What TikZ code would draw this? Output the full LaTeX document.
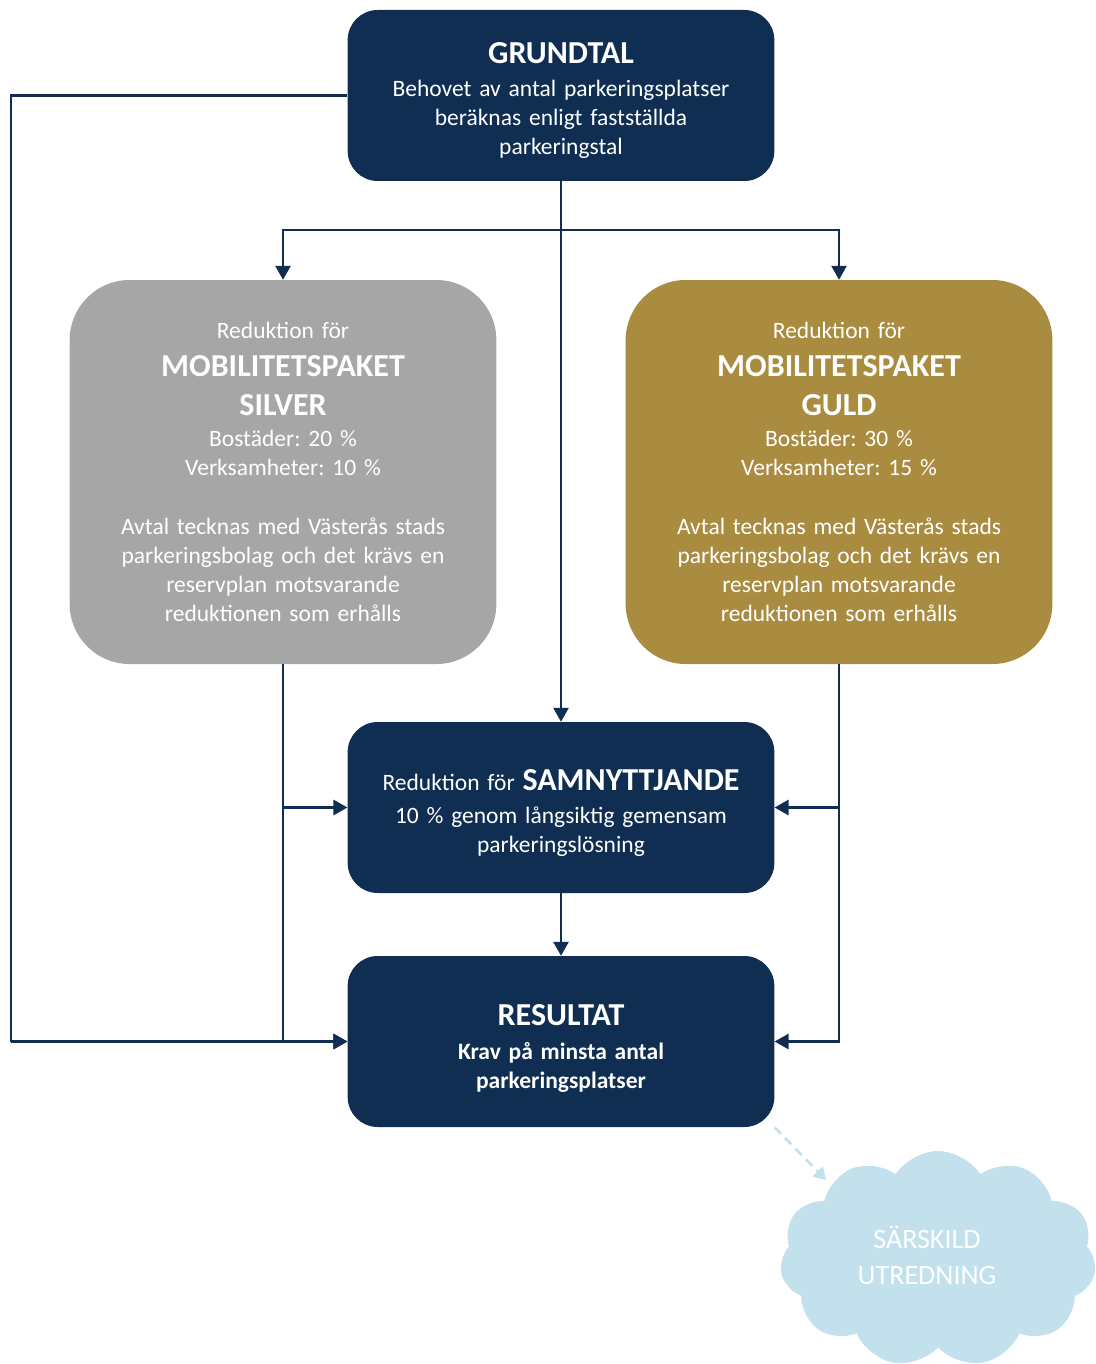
\documentclass[tikz,border=0pt]{standalone}
\usepackage{fontspec}
\setmainfont{Carlito}
\usetikzlibrary{arrows.meta,shapes.symbols,positioning}
\definecolor{navy}{HTML}{0F2E52}
\definecolor{silvergray}{HTML}{A6A6A6}
\definecolor{goldbrown}{HTML}{AA8C40}
\definecolor{skyblue}{HTML}{C3E1EC}
\frenchspacing
\tikzset{
  navybox/.style={draw=none, fill=navy, rounded corners=30pt, minimum width=426pt, minimum height=171pt, text=white, text width=420pt, align=center, font=\fontsize{23.5}{29}\selectfont},
  bigbox/.style={draw=none, rounded corners=60pt, minimum width=426pt, minimum height=384pt, text=white, text width=420pt, align=center, font=\fontsize{23.5}{29}\selectfont},
  link/.style={navy, line width=2.6pt, -{Triangle[length=14pt,width=15pt]}},
  rail/.style={navy, line width=2.6pt}
}
\newcommand{\titlefont}{\fontsize{32}{29}\selectfont\bfseries}
\newcommand{\topstrut}[1]{\rule{0pt}{#1}}
\begin{document}
\begin{tikzpicture}[x=1pt, y=-1pt]
    \useasboundingbox (0,0) rectangle (1095,1364);

    \node[navybox] (grund) at (561,95.5) {\topstrut{32pt}{\titlefont GRUNDTAL}\\[4pt]Behovet av antal parkeringsplatser\\beräknas enligt fastställda\\parkeringstal};
    \node[bigbox, fill=silvergray] (silver) at (283,472) {Reduktion för\\[9pt]{\titlefont MOBILITETSPAKET}\\[10pt]{\titlefont SILVER}\\[2pt]Bostäder: 20 \%\\Verksamheter: 10 \%\\[30pt]Avtal tecknas med Västerås stads\\parkeringsbolag och det krävs en\\reservplan motsvarande\\reduktionen som erhålls};
    \node[bigbox, fill=goldbrown] (guld) at (839,472) {Reduktion för\\[9pt]{\titlefont MOBILITETSPAKET}\\[10pt]{\titlefont GULD}\\[2pt]Bostäder: 30 \%\\Verksamheter: 15 \%\\[30pt]Avtal tecknas med Västerås stads\\parkeringsbolag och det krävs en\\reservplan motsvarande\\reduktionen som erhålls};
    \node[navybox] (samn) at (561,807.5) {\topstrut{32pt}Reduktion för {\titlefont SAMNYTTJANDE}\\[4pt]10 \% genom långsiktig gemensam\\parkeringslösning};
    \node[navybox] (res) at (561,1041.5) {\topstrut{34pt}{\titlefont RESULTAT}\\[5pt]{\bfseries Krav på minsta antal}\\{\bfseries parkeringsplatser}};
    \node[cloud, cloud puffs=11, cloud puff arc=115, aspect=1.5, fill=skyblue, draw=none, minimum width=316pt, minimum height=216pt, text=white, align=center, font=\fontsize{28}{36}\selectfont] (utredning) at (938,1259) {\hspace*{-22pt}SÄRSKILD\\\hspace*{-22pt}UTREDNING\rule[-8pt]{0pt}{8pt}};

    \coordinate (split) at (561,230);
    \coordinate (leftrail) at (11,1041.5);
    \coordinate (cloudtip) at (826,1180);

    \draw[rail] (grund.south) -- (split);
    \draw[link] (split) -- (samn.north);
    \draw[link] (split) -| (silver.north);
    \draw[link] (split) -| (guld.north);
    \draw[rail] (grund.west) -| (leftrail);
    \draw[link] (leftrail) -- (res.west);
    \draw[link] (silver.south) |- (res.west);
    \draw[link] (silver.south |- samn.west) -- (samn.west);
    \draw[link] (guld.south) |- (res.east);
    \draw[link] (guld.south |- samn.east) -- (samn.east);
    \draw[link] (samn.south) -- (res.north);
    \draw[skyblue, line width=2.6pt, dash pattern=on 9pt off 6pt, -{Triangle[length=12pt,width=14pt]}] (res.south east) -- (cloudtip);
\end{tikzpicture}
\end{document}
